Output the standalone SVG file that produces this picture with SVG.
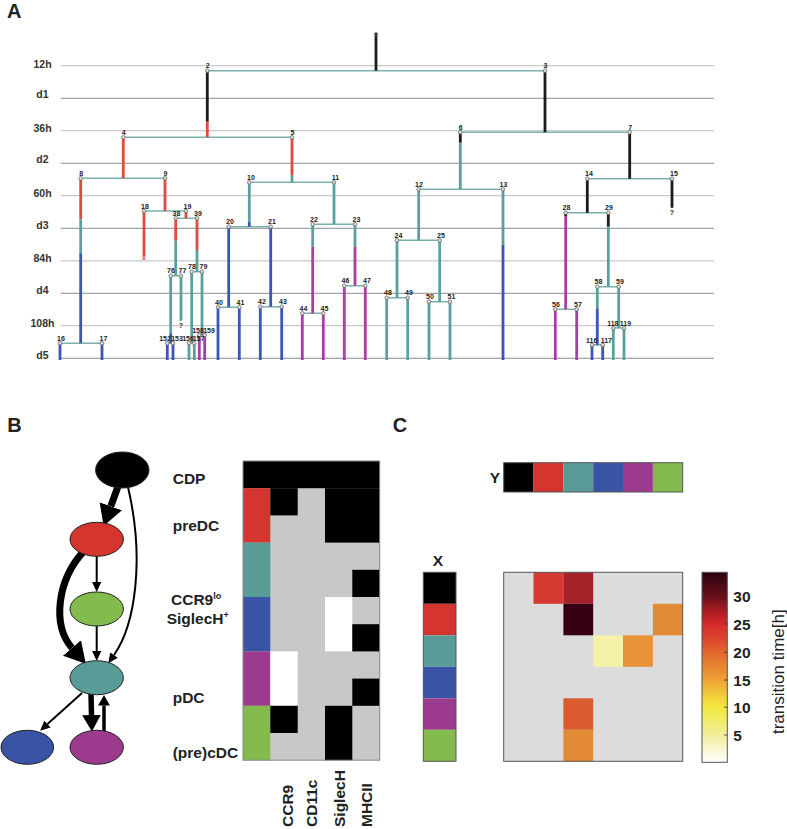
<svg xmlns="http://www.w3.org/2000/svg" width="787" height="829" viewBox="0 0 787 829">
<defs>
<style>
.ga{stroke:#c9c9c9;stroke-width:1.3}
.gb{stroke:#9fa3ad;stroke-width:1.3}
.h{stroke:#7bb0ad;stroke-width:1.4;fill:none}
.v{stroke-width:2.8;fill:none}
.k{stroke:#1c1c1c}.r{stroke:#e14b3b}.t{stroke:#5aa19d}.b{stroke:#3d55b5}.m{stroke:#a63ea3}
.nd{fill:#e0e0e0;stroke:#6a6a6a;stroke-width:0.8}
.nl{font-family:"Liberation Sans",Arial,sans-serif;font-size:7px;font-weight:bold;fill:#222;text-anchor:middle}
.rl{font-family:"Liberation Sans",Arial,sans-serif;font-size:10.5px;font-weight:bold;fill:#333;text-anchor:middle}
.pl{font-family:"Liberation Sans",Arial,sans-serif;font-size:20px;font-weight:bold;fill:#222}
.bl{font-family:"Liberation Sans",Arial,sans-serif;font-size:15.5px;font-weight:bold;fill:#222}
.sup{font-size:9px}
.el{stroke:#222;stroke-width:1}
.ar{stroke:#000;fill:none}
.cg{fill:#c8c8c8}.cw{fill:#fff}.ck{fill:#000}
.fk{fill:#000}.fr{fill:#d4352f}.ft{fill:#589b97}.fb{fill:#3954a4}.fm{fill:#9c3b8e}.fg{fill:#84bb4f}
.bd{fill:none;stroke:#555;stroke-width:1}
</style>
<marker id="ah" viewBox="0 -2 3.2 4" markerWidth="3.2" markerHeight="4" refX="0" refY="0" orient="auto" markerUnits="strokeWidth"><path d="M0,-1.7L3,0L0,1.7z" fill="#000"/></marker>
<marker id="as" viewBox="0 -2.5 5 5" markerWidth="5" markerHeight="5" refX="0" refY="0" orient="auto" markerUnits="strokeWidth"><path d="M0,-2.3L5,0L0,2.3z" fill="#000"/></marker>
<linearGradient id="cb" x1="0" y1="0" x2="0" y2="1">
<stop offset="0" stop-color="#2b0010"/>
<stop offset="0.128" stop-color="#6a1018"/>
<stop offset="0.215" stop-color="#b01e25"/>
<stop offset="0.273" stop-color="#d42a2a"/>
<stop offset="0.36" stop-color="#dd4a2c"/>
<stop offset="0.419" stop-color="#e2672e"/>
<stop offset="0.506" stop-color="#e98a33"/>
<stop offset="0.564" stop-color="#eea035"/>
<stop offset="0.651" stop-color="#f2cf3a"/>
<stop offset="0.709" stop-color="#f1e83e"/>
<stop offset="0.855" stop-color="#f1ee9a"/>
<stop offset="1" stop-color="#ffffff"/>
</linearGradient>
</defs>
<rect width="787" height="829" fill="#fff"/>

<!-- Panel A -->
<text class="pl" x="7" y="17.5">A</text>
<g id="gridA">
<line class="ga" x1="60.7" y1="65.7" x2="714" y2="65.7"/>
<line class="gb" x1="60.7" y1="98.3" x2="714" y2="98.3"/>
<line class="ga" x1="60.7" y1="130.7" x2="714" y2="130.7"/>
<line class="gb" x1="60.7" y1="163.3" x2="714" y2="163.3"/>
<line class="ga" x1="60.7" y1="195.7" x2="714" y2="195.7"/>
<line class="gb" x1="60.7" y1="228.3" x2="714" y2="228.3"/>
<line class="ga" x1="60.7" y1="260.8" x2="714" y2="260.8"/>
<line class="gb" x1="60.7" y1="293.3" x2="714" y2="293.3"/>
<line class="ga" x1="60.7" y1="325.6" x2="714" y2="325.6"/>
<line class="gb" x1="60.7" y1="358.3" x2="714" y2="358.3"/>
<text class="rl" x="42.5" y="68.3">12h</text>
<text class="rl" x="42.5" y="97.7">d1</text>
<text class="rl" x="42.5" y="132.3">36h</text>
<text class="rl" x="42.5" y="162.7">d2</text>
<text class="rl" x="42.5" y="196.7">60h</text>
<text class="rl" x="42.5" y="228.7">d3</text>
<text class="rl" x="42.5" y="262">84h</text>
<text class="rl" x="42.5" y="293.7">d4</text>
<text class="rl" x="42.5" y="326.8">108h</text>
<text class="rl" x="42.5" y="358.7">d5</text>
</g>
<g id="tree">
<path class="h" d="M207.3,70.7H545M123.3,137.3H292M460.3,132.3H629.7M80.7,178.3H165M249.3,182.3H334M418.7,189.3H503M587.3,178.7H672M60,343.3H102M144,211H186M228.7,226.7H270.7M312.7,224.3H355M397,240.3H439.7M565.7,212.7H608.3M175.7,218.3H197M218,307.3H239.3M260.3,306.7H281.7M302.3,313.3H323.3M344.3,285.7H365.3M386.7,297.7H407.7M429,301.7H450M555.3,309.3H576.7M597.3,286.7H618.7M170.7,275.7H181M191.7,271.7H202M592,345H602.7M613.3,328H624M167.3,343.3H173M189,343.3H194.3M199.3,335H204.7"/>
<path class="v k" d="M376,34V70.7M207.3,70.7V121.7M545,70.7V132.3M460.3,132.3V142.7M629.7,132.3V178.7M587.3,178.7V212.7M672,178.7V207.7M565.7,212.7V216M608.3,212.7V226.7"/>
<path class="v r" d="M207.3,121.7V137.3M123.3,137.3V178.3M292,137.3V175M80.7,178.3V219.3M165,178.3V211M144,211V256M186,211V218.3M175.7,218.3V240.7M197,218.3V250"/>
<path class="v t" d="M292,175V182.3M460.3,142.7V189.3M80.7,219.3V253.3M249.3,182.3V221.7M334,182.3V224.3M418.7,189.3V240.3M503,189.3V245M312.7,224.3V246.7M355,224.3V246.7M397,240.3V297.7M439.7,240.3V301.7M608.3,226.7V286.7M175.7,240.7V275.7M197,250V271.7M386.7,297.7V360M407.7,297.7V360M429,301.7V360M450,301.7V360M597.3,286.7V308.3M618.7,286.7V328M170.7,275.7V333.3M181,275.7V320.7M191.7,271.7V343.3M202,271.7V333.3M613.3,328V360M624,328V360M189,343.3V360M194.3,343.3V360"/>
<path class="v b" d="M80.7,253.3V343.3M503,245V360M249.3,221.7V226.7M60,343.3V360M102,343.3V360M228.7,226.7V307.3M270.7,226.7V306.7M218,307.3V360M239.3,307.3V360M260.3,306.7V360M281.7,306.7V360M597.3,308.3V345M170.7,333.3V343.3M592,345V360M602.7,345V360M167.3,343.3V360M173,343.3V360"/>
<path class="v m" d="M312.7,246.7V313.3M355,246.7V285.7M302.3,313.3V360M323.3,313.3V360M344.3,285.7V360M365.3,285.7V360M565.7,216V309.3M555.3,309.3V360M576.7,309.3V360M202,333.3V335M199.3,335V360M204.7,335V360"/>
<g class="nd">
<circle cx="376" cy="34" r="1.5" fill="#333"/>
<circle cx="207.3" cy="70.7" r="1.8"/><circle cx="545" cy="70.7" r="1.8"/>
<circle cx="123.3" cy="137.3" r="1.8"/><circle cx="292" cy="137.3" r="1.8"/>
<circle cx="460.3" cy="132.3" r="1.8"/><circle cx="629.7" cy="132.3" r="1.8"/>
<circle cx="80.7" cy="178.3" r="1.8"/><circle cx="165" cy="178.3" r="1.8"/>
<circle cx="249.3" cy="182.3" r="1.8"/><circle cx="334" cy="182.3" r="1.8"/>
<circle cx="418.7" cy="189.3" r="1.8"/><circle cx="503" cy="189.3" r="1.8"/>
<circle cx="587.3" cy="178.7" r="1.8"/><circle cx="672" cy="178.7" r="1.8"/>
<circle cx="60" cy="343.3" r="1.8"/><circle cx="102" cy="343.3" r="1.8"/>
<circle cx="144" cy="211" r="1.8"/><circle cx="186" cy="211" r="1.8"/>
<circle cx="228.7" cy="226.7" r="1.8"/><circle cx="270.7" cy="226.7" r="1.8"/>
<circle cx="312.7" cy="224.3" r="1.8"/><circle cx="355" cy="224.3" r="1.8"/>
<circle cx="397" cy="240.3" r="1.8"/><circle cx="439.7" cy="240.3" r="1.8"/>
<circle cx="565.7" cy="212.7" r="1.8"/><circle cx="608.3" cy="212.7" r="1.8"/>
<circle cx="175.7" cy="218.3" r="1.8"/><circle cx="197" cy="218.3" r="1.8"/>
<circle cx="218" cy="307.3" r="1.8"/><circle cx="239.3" cy="307.3" r="1.8"/>
<circle cx="260.3" cy="306.7" r="1.8"/><circle cx="281.7" cy="306.7" r="1.8"/>
<circle cx="302.3" cy="313.3" r="1.8"/><circle cx="323.3" cy="313.3" r="1.8"/>
<circle cx="344.3" cy="285.7" r="1.8"/><circle cx="365.3" cy="285.7" r="1.8"/>
<circle cx="386.7" cy="297.7" r="1.8"/><circle cx="407.7" cy="297.7" r="1.8"/>
<circle cx="429" cy="301.7" r="1.8"/><circle cx="450" cy="301.7" r="1.8"/>
<circle cx="555.3" cy="309.3" r="1.8"/><circle cx="576.7" cy="309.3" r="1.8"/>
<circle cx="597.3" cy="286.7" r="1.8"/><circle cx="618.7" cy="286.7" r="1.8"/>
<circle cx="170.7" cy="275.7" r="1.8"/><circle cx="181" cy="275.7" r="1.8"/>
<circle cx="191.7" cy="271.7" r="1.8"/><circle cx="202" cy="271.7" r="1.8"/>
<circle cx="592" cy="345" r="1.8"/><circle cx="602.7" cy="345" r="1.8"/>
<circle cx="613.3" cy="328" r="1.8"/><circle cx="624" cy="328" r="1.8"/>
<circle cx="167.3" cy="343.3" r="1.8"/><circle cx="173" cy="343.3" r="1.8"/>
<circle cx="189" cy="343.3" r="1.8"/><circle cx="194.3" cy="343.3" r="1.8"/>
<circle cx="199.3" cy="335" r="1.8"/><circle cx="204.7" cy="335" r="1.8"/>
</g>
<g class="nl">
<text x="207.8" y="68.2">2</text><text x="545.5" y="68.2">3</text>
<text x="123.8" y="134.8">4</text><text x="292.5" y="134.8">5</text>
<text x="460.8" y="129.8">6</text><text x="630.2" y="129.8">7</text>
<text x="81.2" y="175.8">8</text><text x="165.5" y="175.8">9</text>
<text x="251" y="179.8">10</text><text x="335.5" y="179.8">11</text>
<text x="419" y="186.8">12</text><text x="503.5" y="186.8">13</text>
<text x="589" y="176.2">14</text><text x="674" y="176.2">15</text>
<text x="61" y="340.8">16</text><text x="103.5" y="340.8">17</text>
<text x="145" y="208.5">18</text><text x="187.5" y="208.5">19</text>
<text x="230" y="224.2">20</text><text x="272" y="224.2">21</text>
<text x="314" y="221.8">22</text><text x="356.5" y="221.8">23</text>
<text x="398.5" y="237.8">24</text><text x="441" y="237.8">25</text>
<text x="566.5" y="210.2">28</text><text x="609" y="210.2">29</text>
<text x="176.5" y="215.8">38</text><text x="198" y="215.8">39</text>
<text x="219" y="304.8">40</text><text x="240.5" y="304.8">41</text>
<text x="262" y="304.2">42</text><text x="283" y="304.2">43</text>
<text x="303.5" y="310.8">44</text><text x="324.5" y="310.8">45</text>
<text x="345.5" y="283.2">46</text><text x="367" y="283.2">47</text>
<text x="388" y="295.2">48</text><text x="409" y="295.2">49</text>
<text x="430" y="299.2">50</text><text x="451.5" y="299.2">51</text>
<text x="556" y="306.8">56</text><text x="578" y="306.8">57</text>
<text x="598.5" y="284.2">58</text><text x="620" y="284.2">59</text>
<text x="171" y="273.2">76</text><text x="182.5" y="273.2">77</text>
<text x="192" y="269.2">78</text><text x="203.5" y="269.2">79</text>
<text x="591.7" y="342.5">116</text><text x="606.3" y="342.5">117</text>
<text x="612.8" y="325.5">118</text><text x="625.5" y="325.5">119</text>
<text x="165" y="340.8">152</text><text x="177" y="340.8">153</text>
<text x="188" y="340.8">156</text><text x="198.5" y="340.8">157</text>
<text x="198" y="332.5">158</text><text x="209" y="332.5">159</text>
<text x="181" y="327.5">?</text>
<text x="672" y="215">?</text>
<text x="144" y="260" fill="#e14b3b">x</text>
</g>
</g>

<!-- Panel B -->
<text class="pl" x="7.3" y="431.7">B</text>
<g id="connectors">
<path class="ar" stroke-width="7" marker-end="url(#ah)" d="M120,481L110.8,506.3"/>
<path class="ar" stroke-width="2" marker-end="url(#as)" d="M128,487C145,560 135,625 114,655"/>
<path class="ar" stroke-width="2" marker-end="url(#as)" d="M96.7,556V582"/>
<path class="ar" stroke-width="7" marker-end="url(#ah)" d="M84,551C57,580 52,625 72,648"/>
<path class="ar" stroke-width="2" marker-end="url(#as)" d="M96.7,626V651"/>
<path class="ar" stroke-width="2" marker-end="url(#as)" d="M82,693L47.5,724"/>
<path class="ar" stroke-width="5.5" marker-end="url(#ah)" d="M91,694L91.5,715"/>
<path class="ar" stroke-width="3.5" marker-end="url(#ah)" d="M104,731V705.5"/>
</g>
<g id="node-CDP"><ellipse class="el fk" cx="122.3" cy="470" rx="26.7" ry="18"/></g>
<g id="node-preDC"><ellipse class="el fr" cx="96.7" cy="539.3" rx="26.7" ry="17"/></g>
<g id="node-cDC"><ellipse class="el fg" cx="96.7" cy="609" rx="26.7" ry="17"/></g>
<g id="node-CCR9lo"><ellipse class="el ft" cx="96.7" cy="677.7" rx="26.7" ry="17"/></g>
<g id="node-SiglecH"><ellipse class="el fb" cx="27.3" cy="747.3" rx="26.3" ry="17"/></g>
<g id="node-pDC"><ellipse class="el fm" cx="96.7" cy="747.3" rx="26.7" ry="17"/></g>

<g id="labelsB" class="bl">
<text x="172.7" y="484">CDP</text>
<text x="172.7" y="531">preDC</text>
<text x="171" y="605">CCR9<tspan class="sup" dy="-6">lo</tspan></text>
<text x="166.7" y="624.3">SiglecH<tspan class="sup" dy="-6">+</tspan></text>
<text x="172.7" y="702.7">pDC</text>
<text x="172.7" y="758.3">(pre)cDC</text>
</g>
<g id="matrixB">
<rect class="cg" x="243" y="461" width="136.7" height="299.2"/>
<rect class="ck" x="243" y="461" width="136.7" height="27.2"/>
<rect class="fr" x="243" y="488.2" width="27.3" height="54.4"/>
<rect class="ft" x="243" y="542.6" width="27.3" height="54.4"/>
<rect class="fb" x="243" y="597" width="27.3" height="54.4"/>
<rect class="fm" x="243" y="651.4" width="27.3" height="54.4"/>
<rect class="fg" x="243" y="705.8" width="27.3" height="54.4"/>
<rect class="ck" x="270.3" y="488.2" width="27.4" height="27.2"/>
<rect class="ck" x="325" y="488.2" width="54.7" height="54.4"/>
<rect class="ck" x="352.3" y="569.8" width="27.4" height="27.2"/>
<rect class="cw" x="325" y="597" width="27.3" height="54.4"/>
<rect class="ck" x="352.3" y="624.2" width="27.4" height="27.2"/>
<rect class="cw" x="270.3" y="651.4" width="27.4" height="54.4"/>
<rect class="ck" x="352.3" y="678.6" width="27.4" height="27.2"/>
<rect class="ck" x="270.3" y="705.8" width="27.4" height="27.2"/>
<rect class="ck" x="325" y="705.8" width="27.3" height="54.4"/>
<rect x="243" y="461" width="136.7" height="299.2" fill="none" stroke="#888" stroke-width="1"/>
</g>
<g id="colsB" class="bl">
<text transform="translate(293.3,827) rotate(-90)">CCR9</text>
<text transform="translate(316.7,827) rotate(-90)">CD11c</text>
<text transform="translate(345,827) rotate(-90)">SiglecH</text>
<text transform="translate(371.7,827) rotate(-90)">MHCII</text>
</g>

<!-- Panel C -->
<text class="pl" x="392.7" y="432.3">C</text>
<g id="stripY">
<text class="bl" x="495" y="483.3" text-anchor="middle">Y</text>
<rect class="fk" x="503.7" y="462.7" width="29.8" height="29.3"/>
<rect class="fr" x="533.5" y="462.7" width="29.9" height="29.3"/>
<rect class="ft" x="563.4" y="462.7" width="29.8" height="29.3"/>
<rect class="fb" x="593.2" y="462.7" width="29.8" height="29.3"/>
<rect class="fm" x="623" y="462.7" width="29.9" height="29.3"/>
<rect class="fg" x="652.9" y="462.7" width="29.8" height="29.3"/>
<rect class="bd" x="503.7" y="462.7" width="179" height="29.3"/>
</g>
<g id="stripX">
<text class="bl" x="438" y="566" text-anchor="middle">X</text>
<rect class="fk" x="423.3" y="572.3" width="32.7" height="31.5"/>
<rect class="fr" x="423.3" y="603.8" width="32.7" height="31.5"/>
<rect class="ft" x="423.3" y="635.3" width="32.7" height="31.5"/>
<rect class="fb" x="423.3" y="666.8" width="32.7" height="31.5"/>
<rect class="fm" x="423.3" y="698.3" width="32.7" height="31.5"/>
<rect class="fg" x="423.3" y="729.8" width="32.7" height="31.5"/>
<rect class="bd" x="423.3" y="572.3" width="32.7" height="189"/>
</g>
<g id="heatmap">
<rect x="503.7" y="572.3" width="179" height="189" fill="#dcdcdc"/>
<rect x="533.5" y="572.3" width="29.9" height="31.5" fill="#d63a33"/>
<rect x="563.4" y="572.3" width="29.8" height="31.5" fill="#a4232a"/>
<rect x="563.4" y="603.8" width="29.8" height="31.5" fill="#380014"/>
<rect x="652.9" y="603.8" width="29.8" height="31.5" fill="#e08a35"/>
<rect x="593.2" y="635.3" width="29.8" height="31.5" fill="#f5f1a8"/>
<rect x="623" y="635.3" width="29.9" height="31.5" fill="#e8923a"/>
<rect x="563.4" y="698.3" width="29.8" height="31.5" fill="#da5b31"/>
<rect x="563.4" y="729.8" width="29.8" height="31.5" fill="#e38a35"/>
<rect class="bd" x="503.7" y="572.3" width="179" height="189"/>
</g>
<g id="colorbar">
<rect x="702" y="572.3" width="25.3" height="190" fill="url(#cb)"/>
<rect class="bd" x="702" y="572.3" width="25.3" height="190"/>
<path stroke="#333" stroke-width="0.8" d="M724,596.7H727.3M724,624H727.3M724,652.3H727.3M724,680H727.3M724,707.3H727.3M724,735H727.3"/>
<g class="bl">
<text x="733.3" y="602.2">30</text>
<text x="733.3" y="629.5">25</text>
<text x="733.3" y="657.8">20</text>
<text x="733.3" y="685.5">15</text>
<text x="733.3" y="712.8">10</text>
<text x="733.3" y="740.5">5</text>
</g>
<text transform="translate(784,671.7) rotate(-90)" text-anchor="middle" font-family="Liberation Sans, Arial, sans-serif" font-size="17" fill="#222">transition time[h]</text>
</g>
</svg>
